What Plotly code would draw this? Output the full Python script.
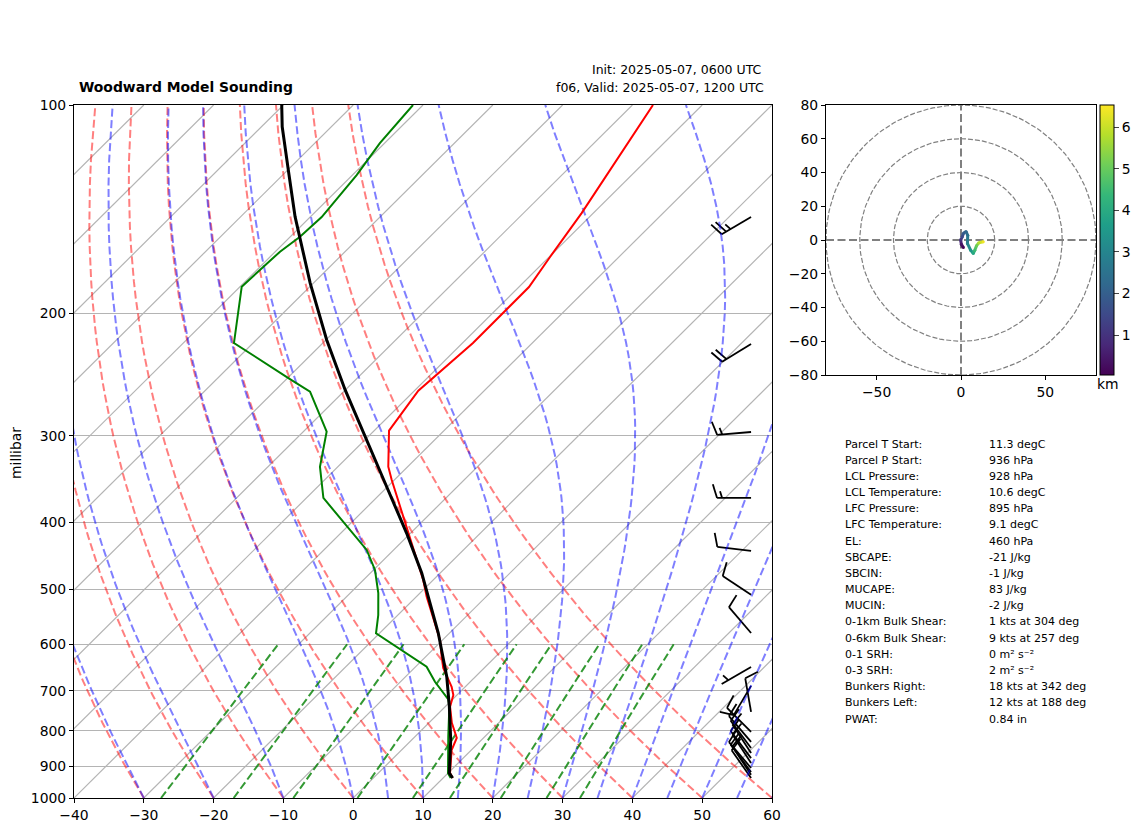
import numpy as np
import plotly.graph_objects as go
from plotly.colors import sample_colorscale

# sounding
temp_p = [100, 143.2, 165.7, 183.1, 220.5, 243.6, 258.4, 295.1, 332.6, 347.6, 406.1, 484.7,
          512.3, 591.6, 625.4, 649.4, 691, 710.1, 738.3, 779.1, 819.1, 852.7, 920.2, 935.7]
temp_c = [-57.05, -51.68, -49.87, -48.55, -48.5, -49.14, -49.44, -47.87, -42.78, -40.37, -31.49, -21.42,
          -18.52, -10.36, -7.71, -5.85, -1.95, -0.52, 0.7, 3.29, 6.17, 7.18, 10.26, 11.36]

dew_p = [100, 113.5, 126.2, 141.7, 145.1, 154.9, 162.8, 182.9, 220.5, 248.6, 259.2, 296.1, 332.6,
         369, 438.6, 468.8, 506.1, 544.5, 578.5, 646.6, 679.6, 720.4, 738.3, 815.6, 921.2, 935.7]
dew_c = [-91.43, -90.68, -89.4, -88.46, -88.35, -88.62, -89.32, -89.75, -82.74, -69.51, -64.82, -56.66, -52.57,
         -47.57, -33.86, -29.78, -25.98, -22.81, -20.5, -8.42, -5.06, -0.62, 0.6, 4.77, 10.02, 11.08]

parcel_p = [100, 107.5, 124.1, 144.9, 180.6, 218.3, 257.7, 301.1, 355.5, 414.7, 473.4, 578,
            668.3, 738.3, 824.7, 920.2, 935.7]
parcel_c = [-110.24, -107.03, -99.92, -92.22, -80.5, -69.89, -60.04, -50.45, -40.12, -30.58, -22.66, -11.62,
            -4.1, 0.6, 5.6, 10.16, 11.36]

# wind barbs (kts)
barb_p = [145.1, 221.2, 296.4, 369, 440, 509, 578, 647, 689, 751, 803,
          830, 847, 861, 876, 890, 905, 917, 926, 936]
barb_u = [21.6, 17.0, 15.0, 15.0, 9.9, 8.3, 6.5, 4.3, 5.1, 1.7, 7.1,
          6.5, 6.0, 5.5, 6.0, 5.5, 6.5, 6.0, 5.5, 5.7]
barb_v = [12.7, 10.5, 1.3, 0.0, -1.2, -5.5, -7.6, 2.5, 8.6, -9.8, -7.1,
          -7.6, -8.0, -8.4, -8.0, -8.4, -7.6, -8.0, -8.4, -8.2]

# hodograph
hodo_u = [1.4, 0.2, -0.2, 0.8, 1.4, 3.0, 4.0, 3.8, 5.7, 7.3, 8.2, 9.3, 10.6, 13.2]
hodo_v = [-4.5, -2.5, 0, 2, 4, 5, 2.8, -2, -6, -8, -6, -3.2, -1.6, -1]
hodo_km = [0.1, 0.4, 1.0, 1.5, 1.9, 2.2, 2.5, 2.9, 3.4, 3.9, 4.5, 5.1, 5.8, 6.4]
hodo_rings = [20, 40, 60, 80]
km_range = [0.04, 6.53]

# background lines
isobars = [100, 200, 300, 400, 500, 600, 700, 800, 900, 1000]
x_ticks = [-40, -30, -20, -10, 0, 10, 20, 30, 40, 50, 60]
isotherms = list(range(-140, 70, 10))
dry_t0 = list(range(-30, 61, 10))
moist_t0 = [-30, -20, -10] + list(range(0, 61, 5))
mix_ratios = [0.0004, 0.001, 0.002, 0.004, 0.007, 0.01, 0.016, 0.024, 0.032]

stat_labels = ['Parcel T Start:', 'Parcel P Start:', 'LCL Pressure:', 'LCL Temperature:', 'LFC Pressure:',
               'LFC Temperature:', 'EL:', 'SBCAPE:', 'SBCIN:', 'MUCAPE:', 'MUCIN:', '0-1km Bulk Shear:',
               '0-6km Bulk Shear:', '0-1 SRH:', '0-3 SRH:', 'Bunkers Right:', 'Bunkers Left:', 'PWAT:']
stat_values = ['11.3 degC', '936 hPa', '928 hPa', '10.6 degC', '895 hPa', '9.1 degC', '460 hPa', '-21 J/kg',
               '-1 J/kg', '83 J/kg', '-2 J/kg', '1 kts at 304 deg', '9 kts at 257 deg', '0 m² s⁻²',
               '2 m² s⁻²', '18 kts at 342 deg', '12 kts at 188 deg', '0.84 in']

# the page body has an 8px margin, the figure starts there
PAGE = 8
W, H = 1142 - PAGE, 832 - PAGE
FONT = 'DejaVu Sans'
SKEW = 100.0  # degC per decade of pressure
PX_PER_C = 6.98
PX_PER_DECADE = 693.0
BARB_X = 57.0
BARB_LEN = 34.0
DASH = '8px,3.5px'


def skew(t, p):
    return np.asarray(t, dtype=float) + SKEW * np.log10(1000.0 / np.asarray(p, dtype=float))


def sat_mixing(tk, p):
    tc = tk - 273.15
    es = 6.112 * np.exp(17.67 * tc / (tc + 243.5))
    return 0.622 * es / (p - es)


def moist_slope(tk, p):
    rs = sat_mixing(tk, p)
    lv = 2.501e6
    return (287.05 * tk + lv * rs) / (1005.0 + lv * lv * rs * 0.622 / (287.05 * tk * tk)) / p


def moist_curve(t0, levels):
    out = [t0 + 273.15]
    for p0, p1 in zip(levels[:-1], levels[1:]):
        dp = p1 - p0
        k1 = moist_slope(out[-1], p0)
        k2 = moist_slope(out[-1] + k1 * dp, p1)
        out.append(out[-1] + 0.5 * (k1 + k2) * dp)
    return np.array(out) - 273.15


def dewpoint(w, p):
    e = w * p / (0.622 + w)
    val = np.log(e / 6.112)
    return 243.5 * val / (17.67 - val)


def barb_lines(p, u, v):
    xs, ys = [], []

    def add(pts):
        for dx, dy in pts:
            xs.append(BARB_X + dx / PX_PER_C)
            ys.append(p * 10 ** (-dy / PX_PER_DECADE))
        xs.append(None)
        ys.append(None)

    spd = np.hypot(u, v)
    if spd == 0:
        return xs, ys
    dx, dy = -u / spd, -v / spd
    nx, ny = dy, -dx
    add([(0, 0), (dx * BARB_LEN, dy * BARB_LEN)])
    fives = int(round(spd / 5.0))
    full, half = fives // 2, fives % 2
    gap = 0.15 * BARB_LEN
    for i in range(full):
        s = BARB_LEN - i * gap
        add([(dx * s, dy * s),
             (dx * (s + 0.125 * BARB_LEN) + nx * 0.4 * BARB_LEN, dy * (s + 0.125 * BARB_LEN) + ny * 0.4 * BARB_LEN)])
    if half:
        s = BARB_LEN - (full * gap if full else 1.5 * gap)
        add([(dx * s, dy * s),
             (dx * (s + 0.0625 * BARB_LEN) + nx * 0.2 * BARB_LEN, dy * (s + 0.0625 * BARB_LEN) + ny * 0.2 * BARB_LEN)])
    return xs, ys


def fx(px):
    return (px - PAGE) / W


def fy(px):
    return 1 - (px - PAGE) / H


def label(x, y, text, size, **kw):
    fig.add_annotation(xref='paper', yref='paper', x=fx(x), y=fy(y), text=text, showarrow=False,
                       xanchor='left', yanchor='middle', align='left', borderpad=0,
                       font=dict(family=FONT, size=size, color='black'), **kw)


fig = go.Figure()

levels = np.linspace(1000, 100, 91)

# isotherms
iso_x, iso_y = [], []
for t in isotherms:
    iso_x += [float(skew(t, 1000)), float(skew(t, 100)), None]
    iso_y += [1000, 100, None]
fig.add_trace(go.Scatter(x=iso_x, y=iso_y, mode='lines', line=dict(color='#b4b4b4', width=1.2)))

# barbs go under everything else
bx, by = [], []
for p, u, v in zip(barb_p, barb_u, barb_v):
    seg_x, seg_y = barb_lines(p, u, v)
    bx += seg_x
    by += seg_y
fig.add_trace(go.Scatter(x=bx, y=by, mode='lines', line=dict(color='black', width=1.8)))

for t0 in dry_t0:
    tk = (t0 + 273.15) * (levels / 1000.0) ** 0.286
    fig.add_trace(go.Scatter(x=skew(tk - 273.15, levels), y=levels, mode='lines',
                             line=dict(color='rgba(255,0,0,0.5)', width=2, dash=DASH)))
for t0 in moist_t0:
    fig.add_trace(go.Scatter(x=skew(moist_curve(t0, levels), levels), y=levels, mode='lines',
                             line=dict(color='rgba(0,0,255,0.5)', width=2, dash=DASH)))
mix_levels = np.linspace(1000, 600, 41)
for w in mix_ratios:
    fig.add_trace(go.Scatter(x=skew(dewpoint(w, mix_levels), mix_levels), y=mix_levels, mode='lines',
                             line=dict(color='rgba(0,128,0,0.8)', width=2, dash=DASH)))

fig.add_trace(go.Scatter(x=skew(temp_c, temp_p), y=temp_p, mode='lines', line=dict(color='red', width=2)))
fig.add_trace(go.Scatter(x=skew(dew_c, dew_p), y=dew_p, mode='lines', line=dict(color='green', width=2)))
fig.add_trace(go.Scatter(x=skew(parcel_c, parcel_p), y=parcel_p, mode='lines', line=dict(color='black', width=3)))

# hodograph
theta = np.linspace(0, 2 * np.pi, 181)
for r in hodo_rings:
    fig.add_trace(go.Scatter(x=r * np.cos(theta), y=r * np.sin(theta), mode='lines', xaxis='x2', yaxis='y2',
                             line=dict(color='gray', width=1.2, dash='5px,2px')))
fig.add_trace(go.Scatter(x=[-80, 80, None, 0, 0], y=[0, 0, None, -80, 80], mode='lines', xaxis='x2', yaxis='y2',
                         line=dict(color='gray', width=2, dash='8px,3.5px')))
span = km_range[1] - km_range[0]
for i in range(len(hodo_u) - 1):
    frac = (0.5 * (hodo_km[i] + hodo_km[i + 1]) - km_range[0]) / span
    fig.add_trace(go.Scatter(x=hodo_u[i:i + 2], y=hodo_v[i:i + 2], mode='lines', xaxis='x2', yaxis='y2',
                             line=dict(color=sample_colorscale('Viridis', frac)[0], width=3)))
fig.add_trace(go.Scatter(x=hodo_u, y=hodo_v, mode='markers', xaxis='x2', yaxis='y2',
                         marker=dict(size=3, color=hodo_km, coloraxis='coloraxis')))

tick_font = dict(family=FONT, size=13.9, color='black')
axis_common = dict(showline=True, linecolor='black', linewidth=1.1, mirror=True, ticks='outside',
                   ticklen=4, tickwidth=1, tickcolor='black', tickfont=tick_font, zeroline=False)

fig.update_layout(
    width=W, height=H, autosize=False, showlegend=False, hovermode=False,
    paper_bgcolor='white', plot_bgcolor='white',
    margin=dict(l=0, r=0, t=0, b=0, autoexpand=False),
    xaxis=dict(domain=[fx(74), fx(772)], range=[-40, 60], tickvals=x_ticks, showgrid=False, anchor='y', **axis_common),
    yaxis=dict(domain=[fy(798), fy(105)], type='log', range=[3, 2], tickvals=isobars,
               ticktext=[str(p) for p in isobars], showgrid=True, gridcolor='#b4b4b4', gridwidth=1.2, anchor='x',
               **axis_common),
    xaxis2=dict(domain=[fx(826), fx(1096)], range=[-80, 80], tickvals=[-50, 0, 50], showgrid=False, anchor='y2',
                **axis_common),
    yaxis2=dict(domain=[fy(375), fy(105)], range=[-80, 80], tickvals=[-80, -60, -40, -20, 0, 20, 40, 60, 80],
                showgrid=False, anchor='x2', **axis_common),
    coloraxis=dict(colorscale='Viridis', cmin=km_range[0], cmax=km_range[1],
                   colorbar=dict(x=fx(1100), xanchor='left', xpad=0, ypad=0, y=fy(375), yanchor='bottom',
                                 lenmode='pixels', len=270, thicknessmode='pixels', thickness=14,
                                 tickvals=[1, 2, 3, 4, 5, 6], ticks='outside', ticklen=5, tickwidth=1,
                                 tickfont=tick_font, outlinecolor='black', outlinewidth=1)),
)

label(78, 87.5, '<b>Woodward Model Sounding</b>', 13.9)
label(591, 70, 'Init: 2025-05-07, 0600 UTC', 12.5)
label(555, 87.5, 'f06, Valid: 2025-05-07, 1200 UTC', 12.5)
label(1096, 384, 'km', 13.9)
fig.add_annotation(xref='paper', yref='paper', x=fx(16), y=fy(453), text='millibar', showarrow=False, textangle=-90,
                   xanchor='center', yanchor='middle', font=dict(family=FONT, size=13.9, color='black'))

for i, (name, val) in enumerate(zip(stat_labels, stat_values)):
    y = 444 + i * 16.18
    label(844, y, name, 11)
    label(988, y, val, 11)

fig.write_html("out.html")
